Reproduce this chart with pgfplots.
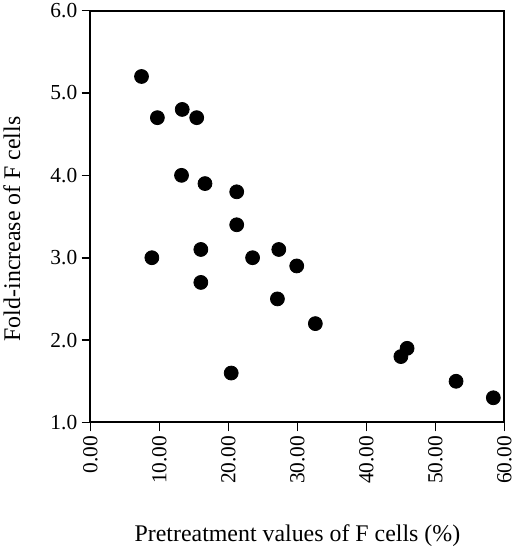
\documentclass[border=0pt]{standalone}
\usepackage{fontspec}
\setmainfont{Liberation Serif}
\usepackage{pgfplots}
\pgfplotsset{compat=1.18}

\begin{document}
\begin{tikzpicture}
\begin{axis}[
    scale only axis,
    width=416pt, height=414pt,
    xmin=0, xmax=60, ymin=1, ymax=6,
    xtick={0,10,...,60}, ytick={1,2,...,6},
    xtick pos=bottom, ytick pos=left,
    line width=2pt,
    axis line style={line width=2pt},
    tick style={line width=1.6pt, black},
    tick align=outside, major tick length=9pt,
    /pgf/number format/assume math mode=true,
    xticklabel style={rotate=90, anchor=east, font=\fontsize{21.5}{24}\selectfont,
        /pgf/number format/.cd, fixed, fixed zerofill, precision=2},
    yticklabel style={font=\fontsize{21.5}{24}\selectfont,
        /pgf/number format/.cd, fixed, fixed zerofill, precision=1},
    xlabel={Pretreatment values of F cells (\%)},
    ylabel={Fold-increase of F cells},
    label style={font=\fontsize{24}{28}\selectfont},
    xlabel style={at={(axis description cs:0.5,-0.275)}, anchor=center},
    ylabel style={at={(axis description cs:-0.19,0.47)}, anchor=center, rotate=0},
    clip=false,
]
\addplot[only marks, mark=*, mark size=7pt, line width=0.8pt, black] coordinates {
    (7.4,5.2) (9.7,4.7) (13.3,4.8) (15.4,4.7)
    (13.2,4.0) (16.6,3.9) (21.2,3.8) (21.2,3.4)
    (8.9,3.0) (16.0,3.1) (16.0,2.7) (23.5,3.0)
    (27.3,3.1) (29.9,2.9) (27.1,2.5) (32.6,2.2)
    (20.4,1.6) (45.0,1.8) (45.9,1.9) (53.0,1.5) (58.4,1.3)
};
\end{axis}
\end{tikzpicture}
\end{document}
